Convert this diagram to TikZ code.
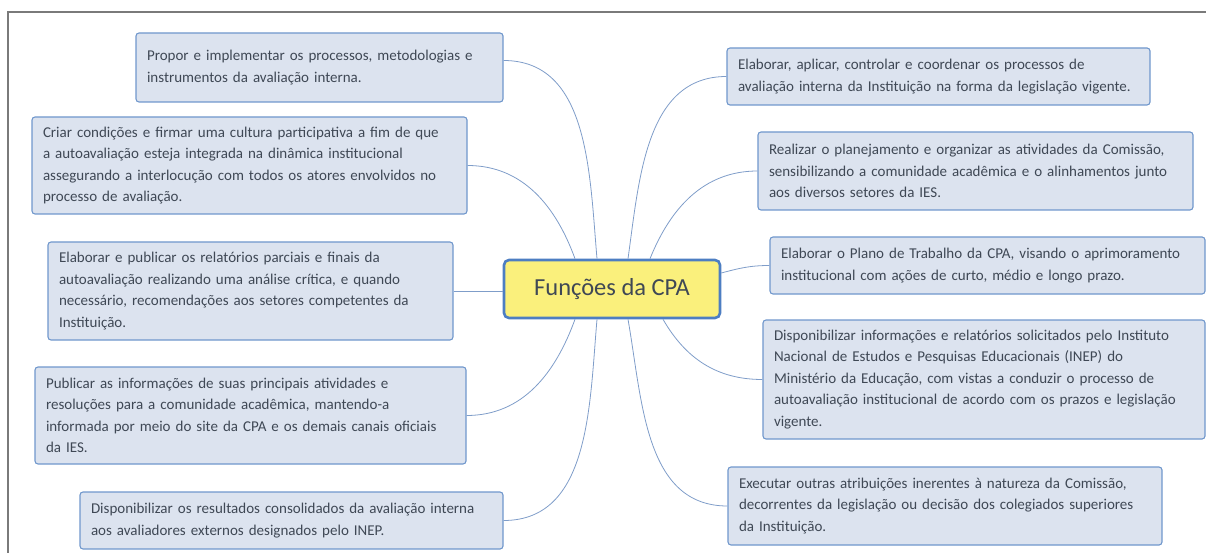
\documentclass[tikz,border=0pt]{standalone}
\usepackage{fontspec}
\setmainfont{Carlito}
\usepackage{xcolor}
\usetikzlibrary{positioning,arrows.meta}
\definecolor{boxfill}{HTML}{DCE3EF}
\definecolor{boxline}{HTML}{7097CC}
\definecolor{hubfill}{HTML}{FAF07C}
\definecolor{hubline}{HTML}{4D7EC2}
\definecolor{linkblue}{HTML}{7F9DC9}
\definecolor{textgray}{HTML}{3F4855}
\definecolor{framegray}{HTML}{7A7A7A}

\begin{document}
\begin{tikzpicture}[x=1pt, y=-1pt,
  leaf/.style={rounded corners=3pt, fill=boxfill, draw=boxline, line width=1.1pt, align=left, inner xsep=11pt, inner ysep=4pt, text=textgray, font=\fontsize{15}{21.5}\selectfont},
  hub/.style={rounded corners=5pt, fill=hubfill, draw=hubline, line width=2.6pt, align=center, text=textgray, font=\fontsize{24.5}{28}\selectfont},
  link/.style={draw=linkblue, line width=0.8pt}]
\useasboundingbox (0,0) rectangle (1206,553);
\draw[framegray, line width=1.8pt] (8,553) -- (8,12) -- (1206,12);

\node[hub, minimum width=216pt, minimum height=58pt] (hub) at (612,289) {Funções da CPA};

% left side
\node[leaf, text width=345pt, minimum height=69pt] (l1) at (319.5,67.5) {Propor e implementar os processos, metodologias e\\instrumentos da avaliação interna.};
\node[leaf, text width=413pt, minimum height=97pt] (l2) at (249.5,165.5) {Criar condições e firmar uma cultura participativa a fim de que\\a autoavaliação esteja integrada na dinâmica institucional\\assegurando a interlocução com todos os atores envolvidos no\\processo de avaliação.};
\node[leaf, text width=383pt, minimum height=98pt] (l3) at (250.5,291) {Elaborar e publicar os relatórios parciais e finais da\\autoavaliação realizando uma análise crítica, e quando\\necessário, recomendações aos setores competentes da\\Instituição.};
\node[leaf, text width=409pt, minimum height=97pt] (l4) at (250.5,415.5) {Publicar as informações de suas principais atividades e\\resoluções para a comunidade acadêmica, mantendo-a\\informada por meio do site da CPA e os demais canais oficiais\\da IES.};
\node[leaf, text width=401pt, minimum height=57pt] (l5) at (291.5,520.5) {Disponibilizar os resultados consolidados da avaliação interna\\aos avaliadores externos designados pelo INEP.};

% right side
\node[leaf, text width=401pt, minimum height=57pt] (r1) at (938.5,76.5) {Elaborar, aplicar, controlar e coordenar os processos de\\avaliação interna da Instituição na forma da legislação vigente.};
\node[leaf, text width=413pt, minimum height=78pt] (r2) at (975.5,171) {Realizar o planejamento e organizar as atividades da Comissão,\\sensibilizando a comunidade acadêmica e o alinhamentos junto\\aos diversos setores da IES.};
\node[leaf, text width=413pt, minimum height=57pt] (r3) at (987.5,265.5) {Elaborar o Plano de Trabalho da CPA, visando o aprimoramento\\institucional com ações de curto, médio e longo prazo.};
\node[leaf, text width=420pt, minimum height=119pt] (r4) at (984,379.5) {Disponibilizar informações e relatórios solicitados pelo Instituto\\Nacional de Estudos e Pesquisas Educacionais (INEP) do\\Ministério da Educação, com vistas a conduzir o processo de\\autoavaliação institucional de acordo com os prazos e legislação\\vigente.};
\node[leaf, text width=412pt, minimum height=78pt] (r5) at (945,506) {Executar outras atribuições inerentes à natureza da Comissão,\\decorrentes da legislação ou decisão dos colegiados superiores\\da Instituição.};

% connectors
\draw[link] ([yshift=7pt]l1.east) to[out=0, in=95] ([xshift=-15pt]hub.north);
\draw[link] (l2.east) to[out=0, in=110] ([xshift=-37pt]hub.north);
\draw[link] (l3.east) -- (l3.east -| hub.west);
\draw[link] (l4.east) to[out=0, in=-110] ([xshift=-37pt]hub.south);
\draw[link] (l5.east) to[out=0, in=-95] ([xshift=-15pt]hub.south);
\draw[link] (r1.west) to[out=180, in=82] ([xshift=16pt]hub.north);
\draw[link] (r2.west) to[out=180, in=68] ([xshift=38pt]hub.north);
\draw[link] (r3.west) to[out=180, in=15] ([yshift=16pt]hub.east);
\draw[link] (r4.west) to[out=180, in=-60] ([xshift=51pt]hub.south);
\draw[link] (r5.west) to[out=180, in=-80] ([xshift=16pt]hub.south);
\end{tikzpicture}
\end{document}
